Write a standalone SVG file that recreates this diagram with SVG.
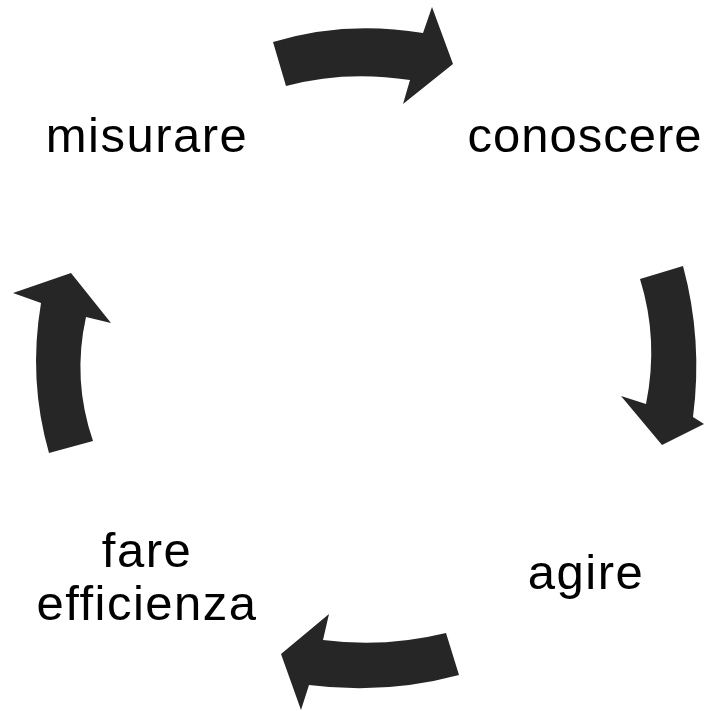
<svg xmlns="http://www.w3.org/2000/svg" width="704" height="711" viewBox="0 0 704 711">
<style>
.arrow{fill:#262626;}
.lbl{font-family:"Liberation Sans",Arial,sans-serif;font-size:49px;fill:#000;text-anchor:middle;letter-spacing:1.5px;}
</style>
<rect width="704" height="711" fill="#fff"/>
<g id="connectors">
<path id="arrow-top" class="arrow" d="M273,42 Q345,20 423,33 L432,7 L453,64 L403,104 L410,80 Q345,70 286,86 Z"/>
<path id="arrow-right" class="arrow" d="M640,279 L683,266 Q703,340 693,417 L704,424 L662,445 L621,396 L646,404 Q659,340 640,279 Z"/>
<path id="arrow-bottom" class="arrow" d="M446,633 L459,675 Q385,695 309,685 L301,710 L281,654 L329,614 L323,640 Q385,648 446,633 Z"/>
<path id="arrow-left" class="arrow" d="M49,453 L93,441 Q72,380 86,317 L111,323 L71,273 L13,293 L41,303 Q28,380 49,453 Z"/>
</g>
<g id="node-misurare"><text class="lbl" x="147" y="152">misurare</text></g>
<g id="node-conoscere"><text class="lbl" x="585" y="152" style="letter-spacing:1px">conoscere</text></g>
<g id="node-agire"><text class="lbl" x="586" y="589">agire</text></g>
<g id="node-fare-efficienza"><text class="lbl" x="147" y="567">fare</text><text class="lbl" x="147" y="620">efficienza</text></g>
</svg>
